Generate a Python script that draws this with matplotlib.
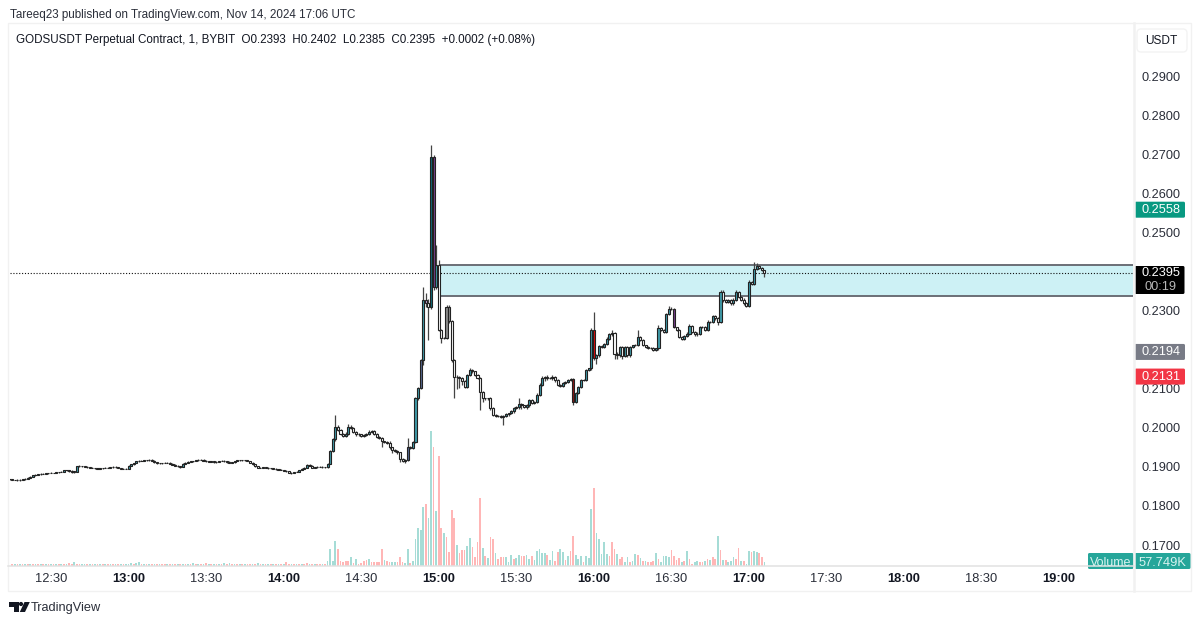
import matplotlib
matplotlib.use("Agg")
import matplotlib.pyplot as plt
from matplotlib.patches import Rectangle, Polygon, Circle, FancyBboxPatch

plt.rcParams['font.family'] = ['Liberation Sans', 'DejaVu Sans']

# ---- data: one candle per minute, minutes counted from 12:00 ----
first_minute = 14
first_open = .1868
closes = [
 .1868,.1867,.1867,.1866,.1867,.1868,.1870,.1872,.1875,.1878,
 .1880,.1881,.1882,.1882,.1883,.1884,.1885,.1885,.1886,.1887,
 .1888,.1891,.1892,.1890,.1888,.1888,.1901,.1902,.1901,.1900,
 .1899,.1898,.1897,.1896,.1895,.1896,.1897,.1898,.1898,.1899,
 .1900,.1899,.1897,.1895,.1895,.1895,.1903,.1906,.1910,.1914,
 .1916,.1916,.1917,.1917,.1918,.1916,.1912,.1909,.1909,.1910,
 .1911,.1911,.1908,.1905,.1903,.1901,.1900,.1908,.1911,.1913,
 .1914,.1915,.1917,.1918,.1918,.1916,.1914,.1913,.1914,.1912,
 .1913,.1915,.1916,.1914,.1913,.1911,.1912,.1915,.1917,.1917,
 .1917,.1917,.1915,.1911,.1906,.1901,.1898,.1897,.1899,.1898,
 .1896,.1896,.1895,.1894,.1893,.1892,.1890,.1889,.1885,.1884,
 .1887,.1888,.1892,.1895,.1898,.1905,.1903,.1898,.1899,.1900,
 .1900,.1899,.1899,.1907,.1940,.1970,.2003,.1995,.1985,.1980,
 .1985,.2003,.2000,.1990,.1985,.1983,.1980,.1982,.1985,.1990,
 .1991,.1984,.1977,.1975,.1965,.1963,.1962,.1950,.1943,.1940,
 .1937,.1920,.1916,.1917,.1950,.1948,.1964,.2075,.2101,.2173,
 .2327,.2320,.2310,.2694,.2361,.2417,.2250,.2229,.2229,.2310,
 .2272,.2173,.2131,.2130,.2128,.2120,.2105,.2135,.2148,.2144,
 .2135,.2127,.2092,.2075,.2075,.2075,.2050,.2033,.2031,.2030,
 .2028,.2031,.2034,.2037,.2042,.2050,.2052,.2060,.2057,.2053,
 .2058,.2070,.2063,.2066,.2085,.2110,.2128,.2130,.2127,.2128,
 .2131,.2122,.2110,.2108,.2114,.2116,.2122,.2125,.2066,.2090,
 .2105,.2122,.2122,.2147,.2152,.2250,.2178,.2185,.2210,.2207,
 .2214,.2228,.2239,.2243,.2190,.2186,.2207,.2183,.2207,.2186,
 .2207,.2211,.2211,.2231,.2224,.2211,.2207,.2205,.2205,.2200,
 .2203,.2254,.2250,.2245,.2292,.2305,.2305,.2257,.2250,.2233,
 .2228,.2234,.2241,.2260,.2245,.2239,.2241,.2257,.2257,.2250,
 .2271,.2271,.2286,.2280,.2271,.2348,.2326,.2322,.2326,.2318,
 .2328,.2348,.2335,.2328,.2318,.2312,.2373,.2369,.2407,.2413,
 .2410,.2403,.2395]

# wick lengths above / below the body, in units of 0.0001
upper_wicks = [
 1,1,0,1,1,1,1,1,1,1, 1,1,1,1,1,1,1,0,1,1, 1,1,1,1,2,1,1,2,1,1,
 1,1,1,1,1,1,1,1,1,1, 1,1,1,1,1,1,1,1,1,1, 2,1,1,1,1,1,1,1,1,1,
 1,1,1,1,1,1,1,1,1,1, 1,1,1,1,1,1,2,1,1,2, 1,1,1,1,1,1,1,1,1,1,
 1,1,1,1,1,1,1,1,1,1, 1,1,1,1,1,1,1,1,1,1, 1,1,1,1,2,3,1,1,1,1,
 1,1,1,2,3,3,30,3,2,2, 3,6,3,2,2,1,2,3,2,3, 2,2,2,1,2,1,2,3,2,2,
 2,2,2,3,23,3,3,4,3,3, 34,17,10,30,4,51,13,2,4,5, 4,3,3,3,3,2,3,3,6,3,
 2,3,2,2,2,2,3,2,2,2, 2,2,3,2,3,3,3,15,3,2, 3,4,3,2,5,4,4,3,4,2,
 3,2,3,3,3,3,2,3,3,2, 3,3,3,3,2,4,47,3,3,3, 3,3,3,6,3,3,2,3,3,3,
 3,2,4,20,3,2,2,2,2,2, 2,8,3,3,2,6,3,2,2,3, 3,3,3,6,4,3,3,3,3,4,
 4,3,3,3,3,5,4,3,3,3, 3,4,3,3,3,3,4,3,18,8, 3,2,0]
lower_wicks = [
 1,1,1,1,1,1,1,1,1,1, 1,1,1,1,1,1,1,1,1,1, 1,1,1,2,3,3,1,1,1,1,
 1,1,1,1,1,1,1,1,1,1, 1,1,1,1,1,1,1,1,1,1, 1,1,1,1,1,1,1,1,1,1,
 1,1,1,1,1,1,2,1,1,1, 1,1,1,1,1,1,1,1,1,1, 1,1,1,1,2,1,1,1,1,1,
 1,1,1,1,1,1,2,1,1,1, 1,1,1,1,1,1,1,1,2,2, 1,1,1,1,1,1,1,1,1,1,
 1,1,1,1,1,2,3,4,4,4, 3,3,3,4,6,3,3,4,4,3, 3,3,3,4,15,3,3,4,8,3,
 3,8,3,5,3,3,3,3,3,3, 12,10,85,5,8,5,3,12,3,3, 5,5,56,30,25,10,3,3,3,3,
 3,3,46,8,4,4,4,3,4,3, 3,20,3,3,3,3,3,3,8,3, 4,4,3,3,3,3,3,8,6,3,
 5,6,4,3,3,3,2,2,8,3, 4,3,3,3,3,3,5,15,4,3, 3,3,3,3,15,10,5,8,3,5,
 5,3,3,3,3,3,3,4,3,3, 3,4,3,3,3,3,3,3,3,3, 3,3,3,4,3,3,3,3,3,3,
 3,3,3,3,8,3,3,3,3,3, 3,3,3,3,3,3,3,3,3,3, 3,3,10]

# volume in steps of about 5.8K, ten per row from minute 14
volumes = [
 5,5,4,5,4,5,5,4,5,4,
 4,5,4,5,4,5,4,5,5,4,
 5,4,5,8,5,10,5,4,4,5,
 4,5,4,4,5,4,4,5,4,4,
 5,4,4,5,4,4,6,7,5,7,
 10,4,5,4,4,5,4,4,5,4,
 4,5,4,4,5,6,4,5,4,5,
 5,9,5,6,4,4,8,5,4,5,
 5,6,4,7,6,7,5,4,5,6,
 4,5,4,6,5,4,8,5,6,4,
 4,5,5,4,5,4,6,10,5,4,
 4,5,4,4,5,9,6,4,5,4,
 4,5,4,15,50,15,75,50,15,12,
 15,15,25,8,20,6,8,15,18,20,
 10,12,12,12,50,18,15,12,12,12,
 10,25,10,8,50,7,15,80,112,108,
 175,185,143,405,357,165,330,113,98,85,
 40,167,143,63,37,48,48,58,83,55,
 27,70,203,53,30,22,85,80,38,20,
 25,27,27,12,33,20,22,33,28,28,
 33,20,28,17,45,50,37,38,33,17,
 45,15,40,50,40,18,28,43,90,33,
 20,28,12,28,22,170,233,97,80,35,
 70,35,30,70,50,35,20,25,10,25,
 12,15,35,33,22,15,15,12,12,15,
 38,20,10,28,30,27,48,30,18,24,
 12,15,45,20,5,10,14,10,10,15,
 20,17,25,20,90,48,17,17,10,14,
 26,20,52,15,15,5,45,40,45,40,
 37,25,10]
volume_dirs = (
 "grgrgrgrgr" "grgrgrgrgr" "grgrrgrrgg" "rgrgrgrgrg" "rgrgrgggrg"
 "grgrgrgrgr" "rgrgrgrgrg" "rgrgrgrgrg" "rgrgrgrgrg" "rgrrgrgrgr"
 "grgrgrgrrg" "rgrgrrgrgr" "rgrggggrrr" "rrgrgrrrrg" "rrrrrgrrgg"
 "rrrggrgggg" "grggrgrrgr" "rrrgrrrggr" "rrrgrgrrgr" "rrgggrggrr"
 "ggrgggggrg" "grrggrgrrg" "ggrgggrggg" "ggrrrgrrgg" "rggrgrgrrr"
 "grggggrrrr" "grgrrggrrg" "rgrrgrgrgg" "grrgrggrgg" "rrg")

price_ticks = [.17, .18, .19, .20, .21, .23, .25, .26, .27, .28, .29]
hour_labels = ["12:30", "13:00", "13:30", "14:00", "14:30", "15:00", "15:30",
               "16:00", "16:30", "17:00", "17:30", "18:00", "18:30", "19:00"]
hour_minutes = [30, 60, 90, 120, 150, 180, 210, 240, 270, 300, 330, 360, 390, 420]
zone_low, zone_high = .2337, .2416
last_price = .2395
marks = {.2558: ("#089981", "0.2558"), .2194: ("#787b86", "0.2194"), .2131: ("#f23645", "0.2131")}

if not (len(closes) == len(upper_wicks) == len(lower_wicks) == len(volumes) == len(volume_dirs)):
    raise SystemExit(f"{len(closes)} {len(upper_wicks)} {len(lower_wicks)} {len(volumes)} {len(volume_dirs)}")

# ---- styling ----
W, H = 1200, 623
UP, DOWN = "#3f9aa8", "#ffffff"
special = {37: "#b02020", 173: "#55678f", 168: "#55678f", 175: "#c9a0dc", 177: "#0e6a78", 178: "#7a3f8c",
           232: "#8c1616", 240: "#e00b0b", 271: "#7a3f8c", 183: "#8a8a8a", 184: "#8a8a8a"}
minutes = [first_minute + i for i in range(len(closes))]
opens = [first_open] + closes[:-1]

fig = plt.figure(figsize=(W / 100, H / 100), dpi=100, facecolor="white")
L, R, T, B = 10, 1133, 24, 565.5
rect = [L / W, 1 - B / H, (R - L) / W, (B - T) / H]
xlim = (30 + (L - 51) / 2.585, 30 + (R - 51) / 2.585)
ylim = (.17 + (545 - B) / 3908, .17 + (545 - T) / 3908)

ax_vol = fig.add_axes(rect, zorder=1)
ax_vol.set_xlim(*xlim)
ax_vol.set_ylim(0, (B - T) * 3)
ax_vol.axis("off")
ax_vol.bar(minutes, volumes, width=0.66, linewidth=0,
           color=["#a6dcd6" if d == "g" else "#ffb6b6" for d in volume_dirs])

ax = fig.add_axes(rect, zorder=2)
ax.patch.set_alpha(0)
ax.set_xlim(*xlim)
ax.set_ylim(*ylim)
for s in ax.spines.values():
    s.set_visible(False)

ax.axhspan(zone_low, zone_high, xmin=(440 - L) / (R - L), xmax=1, facecolor="#cdf1f5", edgecolor="none", zorder=1)
for y in (zone_low, zone_high):
    ax.axhline(y, xmin=(440 - L) / (R - L), xmax=1, color="#6b6f76", lw=1.4, zorder=2)
ax.axhline(last_price, color="#111111", lw=0.8, ls=(0, (1, 1.6)), zorder=3)

for m, o, c, uw, lw_ in zip(minutes, opens, closes, upper_wicks, lower_wicks):
    top, bot = max(o, c), min(o, c)
    ax.vlines(m, bot - lw_ * 1e-4, top + uw * 1e-4, color="#444444", lw=0.9, zorder=4)
    face = special.get(m, UP if c > o else DOWN)
    ax.add_patch(Rectangle((m - 0.4, bot), 0.8, max(top - bot, 1e-5), facecolor=face,
                           edgecolor="#222222", lw=0.8, zorder=5))

ax.yaxis.tick_right()
ax.set_yticks(price_ticks)
ax.set_yticklabels([f"{p:.4f}" for p in price_ticks], fontsize=9.2, color="#2a2e39")
ax.tick_params(axis="y", length=0, pad=6.2)
ax.set_xticks(hour_minutes)
ax.set_xticklabels(hour_labels, fontsize=9.3, color="#2a2e39")
ax.tick_params(axis="x", length=0, pad=5.5)
for lab in ax.get_xticklabels():
    if lab.get_text().endswith(":00"):
        lab.set_fontweight("bold")
        lab.set_color("#131722")

# overlay in pixel coordinates for the frame, header, price tags and logo
ov = fig.add_axes([0, 0, 1, 1], zorder=3)
ov.set_xlim(0, W)
ov.set_ylim(H, 0)
ov.axis("off")
FR = "#f1f1f1"
ov.add_patch(Rectangle((8, 23), 1183, 567.5, fill=False, edgecolor=FR, lw=1))
ov.plot([1134, 1134], [23, 590.5], color=FR, lw=1.8)
ov.plot([8, 1134], [565.5, 565.5], color="#e2e2e2", lw=1.1)

ov.text(10, 15, "Tareeq23 published on TradingView.com, Nov 14, 2024 17:06 UTC",
        fontsize=8.35, color="#2a2e39", va="center")
ov.text(16, 40, "GODSUSDT Perpetual Contract, 1, BYBIT  O0.2393  H0.2402  L0.2385  C0.2395  +0.0002 (+0.08%)",
        fontsize=8.35, color="#131722", va="center")
ov.add_patch(FancyBboxPatch((1139, 31), 46, 19, boxstyle="round,pad=2,rounding_size=4",
                            facecolor="white", edgecolor="#f3f3f3", lw=1))
ov.text(1161, 40.5, "USDT", fontsize=8.6, color="#131722", ha="center", va="center")

def tag(y0, y1, color, text, x0=1134.5, x1=1185, tc="white", fs=9.2):
    ov.add_patch(FancyBboxPatch((x0 + 1, y0 + 1), x1 - x0 - 2, y1 - y0 - 2, boxstyle="round,pad=1,rounding_size=1.5",
                                facecolor=color, edgecolor="none"))
    ov.text(1160.5, (y0 + y1) / 2 + 0.5, text, color=tc, fontsize=fs, ha="center", va="center")

def price_px(p):
    return 545 - (p - .17) * 3908

for p, (col, txt) in marks.items():
    yc = price_px(p)
    tag(yc - 8, yc + 8, col, txt)
# current price tag with countdown
ov.add_patch(FancyBboxPatch((1135.5, 267), 48, 26, boxstyle="round,pad=1,rounding_size=1.5", facecolor="black", edgecolor="none"))
ov.text(1160.5, 273.5, "0.2395", color="white", fontsize=9.2, ha="center", va="center")
ov.text(1160.5, 286.5, "00:19", color="#b8b8b8", fontsize=9.2, ha="center", va="center")

# volume tags, cut off at the time axis
clip = Rectangle((0, 0), W, 565.5, transform=ov.transData)
ov.add_patch(FancyBboxPatch((1089, 554), 43.5, 14, boxstyle="round,pad=1,rounding_size=1.5", facecolor="#26a69a",
                            edgecolor="none", clip_path=clip))
ov.add_patch(FancyBboxPatch((1135.5, 554), 54, 14, boxstyle="round,pad=1,rounding_size=1.5", facecolor="#26a69a",
                            edgecolor="none", clip_path=clip))
t1 = ov.text(1110.5, 562.5, "Volume", color="#d8f3f0", fontsize=9, ha="center", va="center")
t2 = ov.text(1162, 562.5, "57.749K", color="#d8f3f0", fontsize=9.3, ha="center", va="center")
for t in (t1, t2):
    t.set_clip_path(clip)

# logo and wordmark
ov.add_patch(Polygon([(9, 602), (18.5, 602), (18.5, 612), (14, 612), (14, 606.5), (9, 606.5)], fc="#131722", ec="none"))
ov.add_patch(Circle((21, 604), 2.1, fc="#131722", ec="none"))
ov.add_patch(Polygon([(24.5, 602), (29.8, 602), (25, 612), (19.8, 612)], fc="#131722", ec="none"))
ov.text(31, 607.5, "TradingView", fontsize=9.2, color="#2a2e39", va="center")

fig.savefig("out.png", dpi=100)
